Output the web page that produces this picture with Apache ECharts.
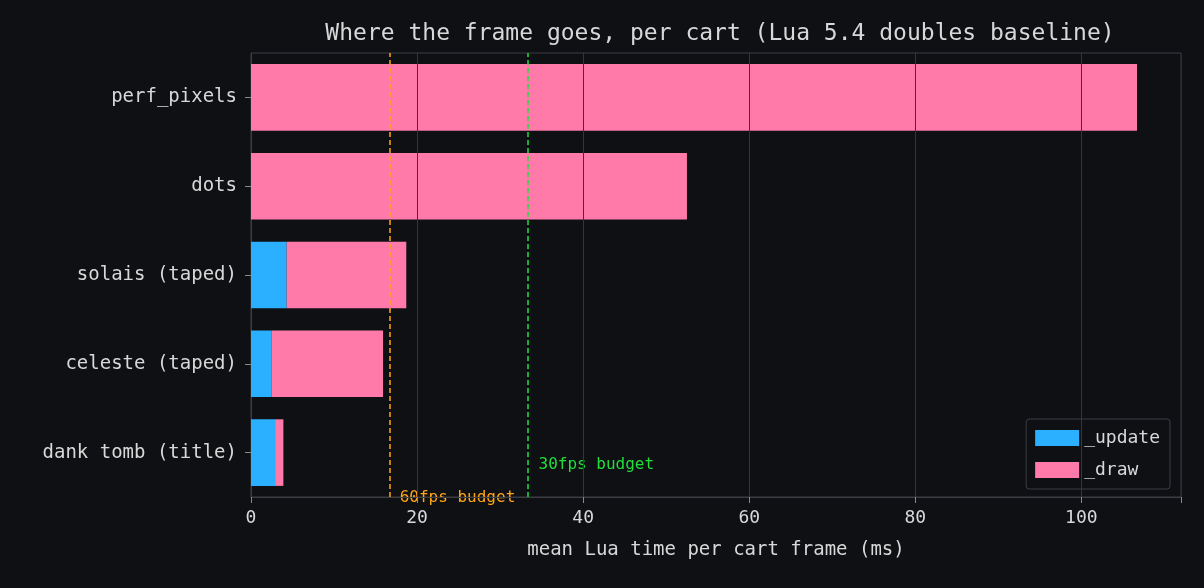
<!DOCTYPE html>
<html><head><meta charset="utf-8">
<script src="https://cdn.jsdelivr.net/npm/echarts@6/dist/echarts.min.js"></script>
<style>html,body{margin:0;background:#0f1014}#c{width:1204px;height:588px}</style>
</head><body><div id="c"></div>
<script>
const categories = ["dank tomb (title)","celeste (taped)","solais (taped)","dots","perf_pixels"];
const updateVals = [2.9, 2.5, 4.3, 0, 0];
const drawVals = [1.0, 13.4, 14.4, 52.5, 106.7];
const budgets = [{name:"60fps budget", value:16.7, color:"#ffa514"},{name:"30fps budget", value:33.3, color:"#22dd3a"}];
const gridTicks = [20,40,60,80,100];
const F = "DejaVu Sans Mono";
const chart = echarts.init(document.getElementById('c'));
chart.setOption({
  backgroundColor:"#0f1014",
  textStyle:{fontFamily:F},
  title:{text:"Where the frame goes, per cart (Lua 5.4 doubles baseline)",left:715,top:18,textAlign:'center',
    textStyle:{color:"#d8d8d8",fontSize:23,fontWeight:'normal',fontFamily:F}},
  grid:{left:251,right:23,top:53,bottom:91,show:true,borderColor:"#3a3d42",borderWidth:1},
  legend:{right:34,top:419,orient:'vertical',itemWidth:44,itemHeight:16,itemGap:14,padding:[10,10,10,9],
    borderColor:"#3a3d42",borderWidth:1,borderRadius:3,backgroundColor:"#0f1014",
    textStyle:{color:"#d8d8d8",fontSize:18,fontFamily:F},data:["_update","_draw"],icon:'rect'},
  xAxis:{type:'value',min:0,max:112,interval:20,
    axisLabel:{color:"#d8d8d8",fontSize:18,fontFamily:F,margin:12,formatter:v=>v>105?'':v},
    axisTick:{show:true,length:6,lineStyle:{color:"#888"}},
    axisLine:{show:true,lineStyle:{color:"#3a3d42"}},
    splitLine:{lineStyle:{color:"#2a2c31"}},
    name:"mean Lua time per cart frame (ms)",nameLocation:'middle',nameGap:44,
    nameTextStyle:{color:"#d8d8d8",fontSize:19,fontFamily:F}},
  yAxis:{type:'category',data:categories,
    axisLabel:{color:"#d8d8d8",fontSize:19,fontFamily:F,margin:14},
    axisTick:{show:true,length:6,alignWithLabel:true,lineStyle:{color:"#888"}},
    axisLine:{lineStyle:{color:"#3a3d42"}}},
  series:[
    {name:"_update",type:'bar',stack:'t',data:updateVals,barWidth:'75%',itemStyle:{color:"#2bb0ff"}},
    {name:"_draw",type:'bar',stack:'t',data:drawVals,barWidth:'75%',itemStyle:{color:"#ff7aa8"},
      markLine:{silent:true,symbol:'none',label:{show:false},z:5,
        lineStyle:{color:"#6a1a3a",type:'solid',width:1},
        data:gridTicks.map(v=>({xAxis:v}))}},
    {name:"budget",type:'line',data:[],markLine:{silent:true,symbol:'none',label:{show:false},
      data:budgets.map(b=>({xAxis:b.value,lineStyle:{color:b.color,type:[5,3],width:1.5}}))}}
  ]
});
const p1 = chart.convertToPixel({gridIndex:0},[budgets[0].value,0]);
const p2 = chart.convertToPixel({gridIndex:0},[budgets[1].value,0]);
chart.setOption({graphic:[
  {type:'text',left:p1[0]+10,top:490,style:{text:budgets[0].name,fill:budgets[0].color,font:"16px "+F}},
  {type:'text',left:p2[0]+11,top:457,style:{text:budgets[1].name,fill:budgets[1].color,font:"16px "+F}}
]});
</script></body></html>
